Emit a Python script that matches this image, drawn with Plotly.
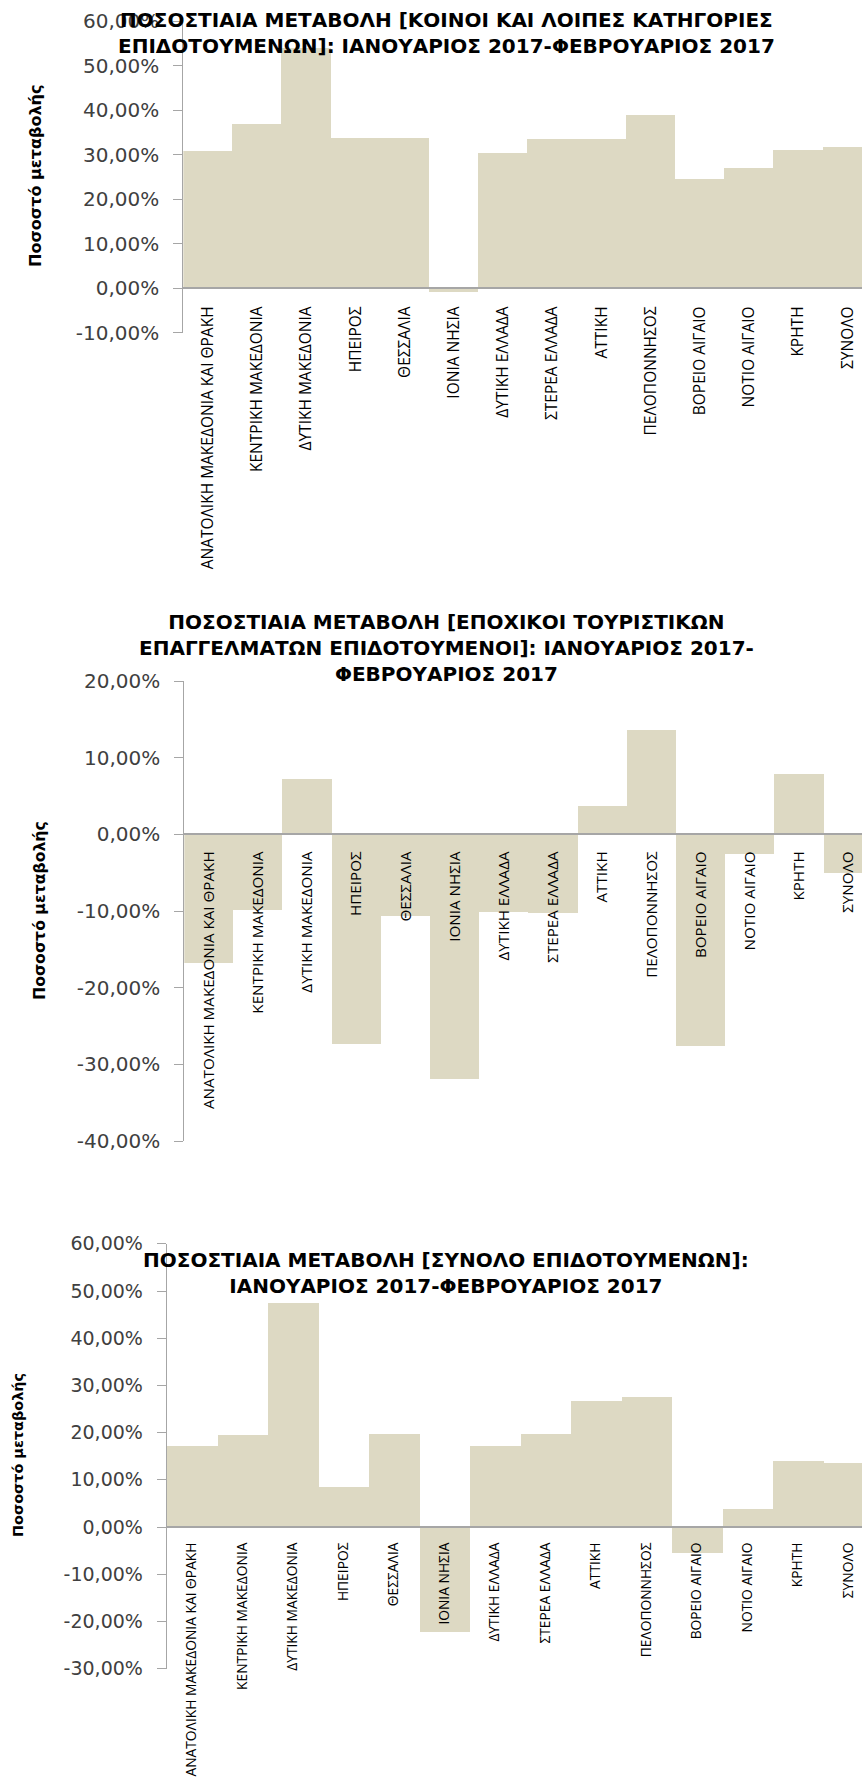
import plotly.graph_objects as go

W, H = 862, 1783

regiones = ["ΑΝΑΤΟΛΙΚΗ ΜΑΚΕΔΟΝΙΑ ΚΑΙ ΘΡΑΚΗ", "ΚΕΝΤΡΙΚΗ ΜΑΚΕΔΟΝΙΑ", "ΔΥΤΙΚΗ ΜΑΚΕΔΟΝΙΑ",
            "ΗΠΕΙΡΟΣ", "ΘΕΣΣΑΛΙΑ", "ΙΟΝΙΑ ΝΗΣΙΑ", "ΔΥΤΙΚΗ ΕΛΛΑΔΑ", "ΣΤΕΡΕΑ ΕΛΛΑΔΑ",
            "ΑΤΤΙΚΗ", "ΠΕΛΟΠΟΝΝΗΣΟΣ", "ΒΟΡΕΙΟ ΑΙΓΑΙΟ", "ΝΟΤΙΟ ΑΙΓΑΙΟ", "ΚΡΗΤΗ", "ΣΥΝΟΛΟ"]

# ποσοστιαία μεταβολή (κλάσμα)
cambio_comunes = [0.307, 0.368, 0.539, 0.337, 0.337, -0.009, 0.304, 0.334, 0.334,
                  0.389, 0.244, 0.270, 0.311, 0.316]
cambio_estacionales = [-0.168, -0.099, 0.072, -0.274, -0.107, -0.319, -0.101, -0.102,
                       0.037, 0.136, -0.276, -0.026, 0.079, -0.050]
cambio_total = [0.171, 0.196, 0.475, 0.086, 0.198, -0.223, 0.171, 0.198, 0.268,
                0.276, -0.054, 0.038, 0.141, 0.1355]

ticks_1 = [-0.1, 0.0, 0.1, 0.2, 0.3, 0.4, 0.5, 0.6]
ticks_1_txt = ["-10,00%", "0,00%", "10,00%", "20,00%", "30,00%", "40,00%", "50,00%", "60,00%"]
ticks_2 = [-0.4, -0.3, -0.2, -0.1, 0.0, 0.1, 0.2]
ticks_2_txt = ["-40,00%", "-30,00%", "-20,00%", "-10,00%", "0,00%", "10,00%", "20,00%"]
ticks_3 = [-0.3, -0.2, -0.1, 0.0, 0.1, 0.2, 0.3, 0.4, 0.5, 0.6]
ticks_3_txt = ["-30,00%", "-20,00%", "-10,00%", "0,00%", "10,00%", "20,00%", "30,00%",
               "40,00%", "50,00%", "60,00%"]

titulos = [
    "ΠΟΣΟΣΤΙΑΙΑ ΜΕΤΑΒΟΛΗ [ΚΟΙΝΟΙ ΚΑΙ ΛΟΙΠΕΣ ΚΑΤΗΓΟΡΙΕΣ<br>ΕΠΙΔΟΤΟΥΜΕΝΩΝ]: ΙΑΝΟΥΑΡΙΟΣ 2017-ΦΕΒΡΟΥΑΡΙΟΣ 2017",
    "ΠΟΣΟΣΤΙΑΙΑ ΜΕΤΑΒΟΛΗ [ΕΠΟΧΙΚΟΙ ΤΟΥΡΙΣΤΙΚΩΝ<br>ΕΠΑΓΓΕΛΜΑΤΩΝ ΕΠΙΔΟΤΟΥΜΕΝΟΙ]: ΙΑΝΟΥΑΡΙΟΣ 2017-<br>ΦΕΒΡΟΥΑΡΙΟΣ 2017",
    "ΠΟΣΟΣΤΙΑΙΑ ΜΕΤΑΒΟΛΗ [ΣΥΝΟΛΟ ΕΠΙΔΟΤΟΥΜΕΝΩΝ]:<br>ΙΑΝΟΥΑΡΙΟΣ 2017-ΦΕΒΡΟΥΑΡΙΟΣ 2017",
]
titulo_y = "Ποσοστό μεταβολής"

BEIGE = "#DDD9C3"
GRIS = "#A6A6A6"

# geometría de cada gráfico en píxeles
graficos = [
    dict(vals=cambio_comunes, rng=[-0.1, 0.6], tv=ticks_1, tt=ticks_1_txt,
         top=21.3, bot=332.7, ax=183.3, cat=49.2, tit_y=33.5, yt_x=35, yt_y=176,
         f_tick=20, f_cat=15.5, f_yt=16, sd=11),
    dict(vals=cambio_estacionales, rng=[-0.4, 0.2], tv=ticks_2, tt=ticks_2_txt,
         top=681, bot=1141, ax=184.3, cat=49.2, tit_y=648, yt_x=39, yt_y=911,
         f_tick=20, f_cat=15.2, f_yt=15.7, sd=10),
    dict(vals=cambio_total, rng=[-0.3, 0.6], tv=ticks_3, tt=ticks_3_txt,
         top=1243.8, bot=1668.6, ax=166.7, cat=50.5, tit_y=1272.5, yt_x=18, yt_y=1455,
         f_tick=19, f_cat=13.8, f_yt=14.4, sd=9),
]

fig = go.Figure()
annotations = []
layout = {}

for i, g in enumerate(graficos, start=1):
    sfx = "" if i == 1 else str(i)
    d0 = 1 - g["bot"] / H
    d1 = 1 - g["top"] / H
    r0, r1 = g["rng"]
    pos0 = d0 + (0 - r0) / (r1 - r0) * (d1 - d0)
    x_end = -0.5 + (W - g["ax"]) / g["cat"]

    fig.add_trace(go.Bar(x=regiones, y=g["vals"], marker=dict(color=BEIGE, line=dict(width=0)),
                         xaxis="x" + sfx, yaxis="y" + sfx, showlegend=False, hoverinfo="x+y"))

    layout["xaxis" + sfx] = dict(
        domain=[g["ax"] / W, 1], range=[-0.5, x_end], type="category",
        anchor="free", position=pos0, showline=True, linecolor=GRIS, linewidth=2,
        ticks="", tickangle=-90, ticklabelstandoff=g["sd"], showgrid=False, zeroline=False,
        tickfont=dict(family="Open Sans", size=g["f_cat"], color="#000000"), automargin=False)
    layout["yaxis" + sfx] = dict(
        domain=[d0, d1], range=g["rng"], anchor="x" + sfx, showline=True, linecolor=GRIS,
        linewidth=1, ticks="outside", ticklen=9, tickcolor=GRIS, tickwidth=1,
        tickvals=g["tv"], ticktext=g["tt"], ticklabelstandoff=10, showgrid=False,
        zeroline=False, tickfont=dict(family="DejaVu Sans", size=g["f_tick"], color="#404040"),
        automargin=False)

    annotations.append(dict(
        text="<b>" + titulos[i - 1] + "</b>", x=446 / W, y=1 - g["tit_y"] / H,
        xref="paper", yref="paper", xanchor="center", yanchor="middle", showarrow=False,
        font=dict(family="DejaVu Sans", size=20, color="#000000")))
    annotations.append(dict(
        text="<b>" + titulo_y + "</b>", x=g["yt_x"] / W, y=1 - g["yt_y"] / H,
        xref="paper", yref="paper", xanchor="center", yanchor="middle", showarrow=False,
        textangle=-90, font=dict(family="DejaVu Sans", size=g["f_yt"], color="#000000")))

fig.update_layout(**layout)
fig.update_layout(
    width=W, height=H, margin=dict(l=0, r=0, t=0, b=0),
    plot_bgcolor="white", paper_bgcolor="white", bargap=0,
    annotations=annotations, showlegend=False)

# sin margen del body para que la figura quede en (0, 0)
fig.write_html("out.html", config={"displayModeBar": False},
               post_script="document.body.style.margin='0';")
